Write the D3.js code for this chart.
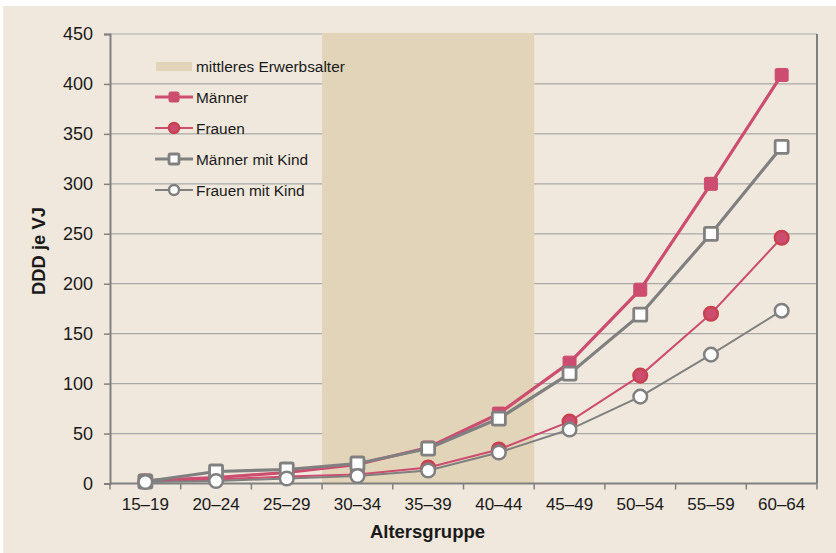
<!DOCTYPE html>
<html>
<head>
<meta charset="utf-8">
<script src="https://cdn.jsdelivr.net/npm/d3@7"></script>
<style>
  body { margin: 0; background: #fff; }
  text { font-family: "Liberation Sans", Arial, sans-serif; fill: #1a1a1a; }
</style>
</head>
<body>
<svg width="836" height="553"></svg>
<script>
// data
const ageGroups = ["15–19", "20–24", "25–29", "30–34", "35–39", "40–44", "45–49", "50–54", "55–59", "60–64"];
const maenner = [3, 6, 11, 19, 36, 70, 121, 194, 300, 409];
const frauen = [2, 4, 7, 9, 16, 34, 62, 108, 170, 246];
const maennerKind = [2, 12, 14, 20, 35, 65, 110, 169, 250, 337];
const frauenKind = [1.5, 2.5, 5, 7.5, 13, 31, 54, 87, 129, 173];
const yTicks = [0, 50, 100, 150, 200, 250, 300, 350, 400, 450];
const band = ["30–34", "40–44"]; // mittleres Erwerbsalter

const pink = "#cc4d6f", gray = "#808080";

const series = [
  {name: "Männer", values: maenner, color: pink, width: 3.2, shape: "square", fill: pink, stroke: pink},
  {name: "Frauen", values: frauen, color: pink, width: 2, shape: "circle", fill: pink, stroke: "#c8414f"},
  {name: "Männer mit Kind", values: maennerKind, color: gray, width: 3.2, shape: "square", fill: "#fff", stroke: gray},
  {name: "Frauen mit Kind", values: frauenKind, color: gray, width: 2, shape: "circle", fill: "#fff", stroke: gray},
];

const svg = d3.select("svg");
svg.append("rect").attr("x", 3).attr("y", 6).attr("width", 833).attr("height", 547).attr("fill", "#f0e8dc");

const pLeft = 110, pRight = 817, pTop = 34, pBottom = 483.5;

const x = d3.scaleBand().domain(ageGroups).range([pLeft, pRight]);
const y = d3.scaleLinear().domain([0, 450]).range([pBottom, pTop]);

// gridlines
svg.append("g").selectAll("line").data(yTicks.slice(1)).enter().append("line")
  .attr("x1", pLeft).attr("x2", pRight)
  .attr("y1", d => y(d)).attr("y2", d => y(d))
  .attr("stroke", "#a9a9a9").attr("stroke-width", 1.2);

// shaded band
svg.append("rect")
  .attr("x", x(band[0])).attr("width", x(band[1]) + x.bandwidth() - x(band[0]))
  .attr("y", pTop - 1).attr("height", pBottom - pTop + 1)
  .attr("fill", "#e2d4b9");

// axes
const yAxis = svg.append("g").attr("transform", `translate(${pLeft},0)`)
  .call(d3.axisLeft(y).tickValues(yTicks).tickSize(6).tickPadding(11));
yAxis.select(".domain").attr("stroke", gray).attr("stroke-width", 2);
yAxis.selectAll(".tick line").attr("stroke", gray).attr("stroke-width", 1.5);
yAxis.selectAll(".tick text").style("font-size", "18px").attr("fill", "#1a1a1a")
  .style("font-family", "'Liberation Sans', Arial, sans-serif");

const xAxis = svg.append("g").attr("transform", `translate(0,${pBottom})`)
  .call(d3.axisBottom(x).tickSize(0).tickPadding(14));
xAxis.select(".domain").remove();
xAxis.selectAll(".tick text").style("font-size", "17px").attr("fill", "#1a1a1a")
  .style("font-family", "'Liberation Sans', Arial, sans-serif");
svg.append("line").attr("x1", pLeft).attr("x2", pRight).attr("y1", pBottom).attr("y2", pBottom)
  .attr("stroke", gray).attr("stroke-width", 2);
svg.append("g").selectAll("line").data(ageGroups.concat([null])).enter().append("line")
  .attr("x1", (d, i) => pLeft + i * x.step()).attr("x2", (d, i) => pLeft + i * x.step())
  .attr("y1", pBottom).attr("y2", pBottom + 6)
  .attr("stroke", gray).attr("stroke-width", 1.5);
// right frame
svg.append("line").attr("x1", pRight).attr("x2", pRight).attr("y1", pTop).attr("y2", pBottom)
  .attr("stroke", gray).attr("stroke-width", 2);

// axis titles
svg.append("text").attr("transform", `translate(45,251) rotate(-90)`)
  .attr("text-anchor", "middle").style("font-size", "18.4px").style("font-weight", "bold")
  .text("DDD je VJ");
svg.append("text").attr("x", 427.5).attr("y", 538)
  .attr("text-anchor", "middle").style("font-size", "18.5px").style("font-weight", "bold")
  .text("Altersgruppe");

const line = d3.line().x((d, i) => x(ageGroups[i]) + x.bandwidth() / 2).y(d => y(d));

function marker(g, s, cx, cy, big) {
  if (s.shape === "square") {
    const sz = big ? 13 : 10;
    g.append("rect").attr("x", cx - sz / 2).attr("y", cy - sz / 2).attr("width", sz).attr("height", sz)
      .attr("rx", 1.5).attr("fill", s.fill).attr("stroke", s.stroke).attr("stroke-width", s.fill === "#fff" ? 2.8 : 1);
  } else {
    g.append("circle").attr("cx", cx).attr("cy", cy).attr("r", big ? 6.8 : 5)
      .attr("fill", s.fill).attr("stroke", s.stroke).attr("stroke-width", 2.5);
  }
}

series.forEach(s => {
  const g = svg.append("g");
  g.append("path").datum(s.values).attr("d", line)
    .attr("fill", "none").attr("stroke", s.color).attr("stroke-width", s.width);
  s.values.forEach((v, i) => marker(g, s, x(ageGroups[i]) + x.bandwidth() / 2, y(v), true));
});

// legend
const lg = svg.append("g");
lg.append("rect").attr("x", 156).attr("y", 62).attr("width", 36).attr("height", 9).attr("fill", "#e2d4b9");
lg.append("text").attr("x", 196).attr("y", 71.5).style("font-size", "15.4px").text("mittleres Erwerbsalter");
series.forEach((s, i) => {
  const cy = 97 + i * 31;
  lg.append("line").attr("x1", 155).attr("x2", 193).attr("y1", cy).attr("y2", cy)
    .attr("stroke", s.color).attr("stroke-width", s.width);
  marker(lg, s, 174, cy, false);
  lg.append("text").attr("x", 196).attr("y", cy + 5.5).style("font-size", "15.4px").text(s.name);
});
</script>
</body>
</html>
